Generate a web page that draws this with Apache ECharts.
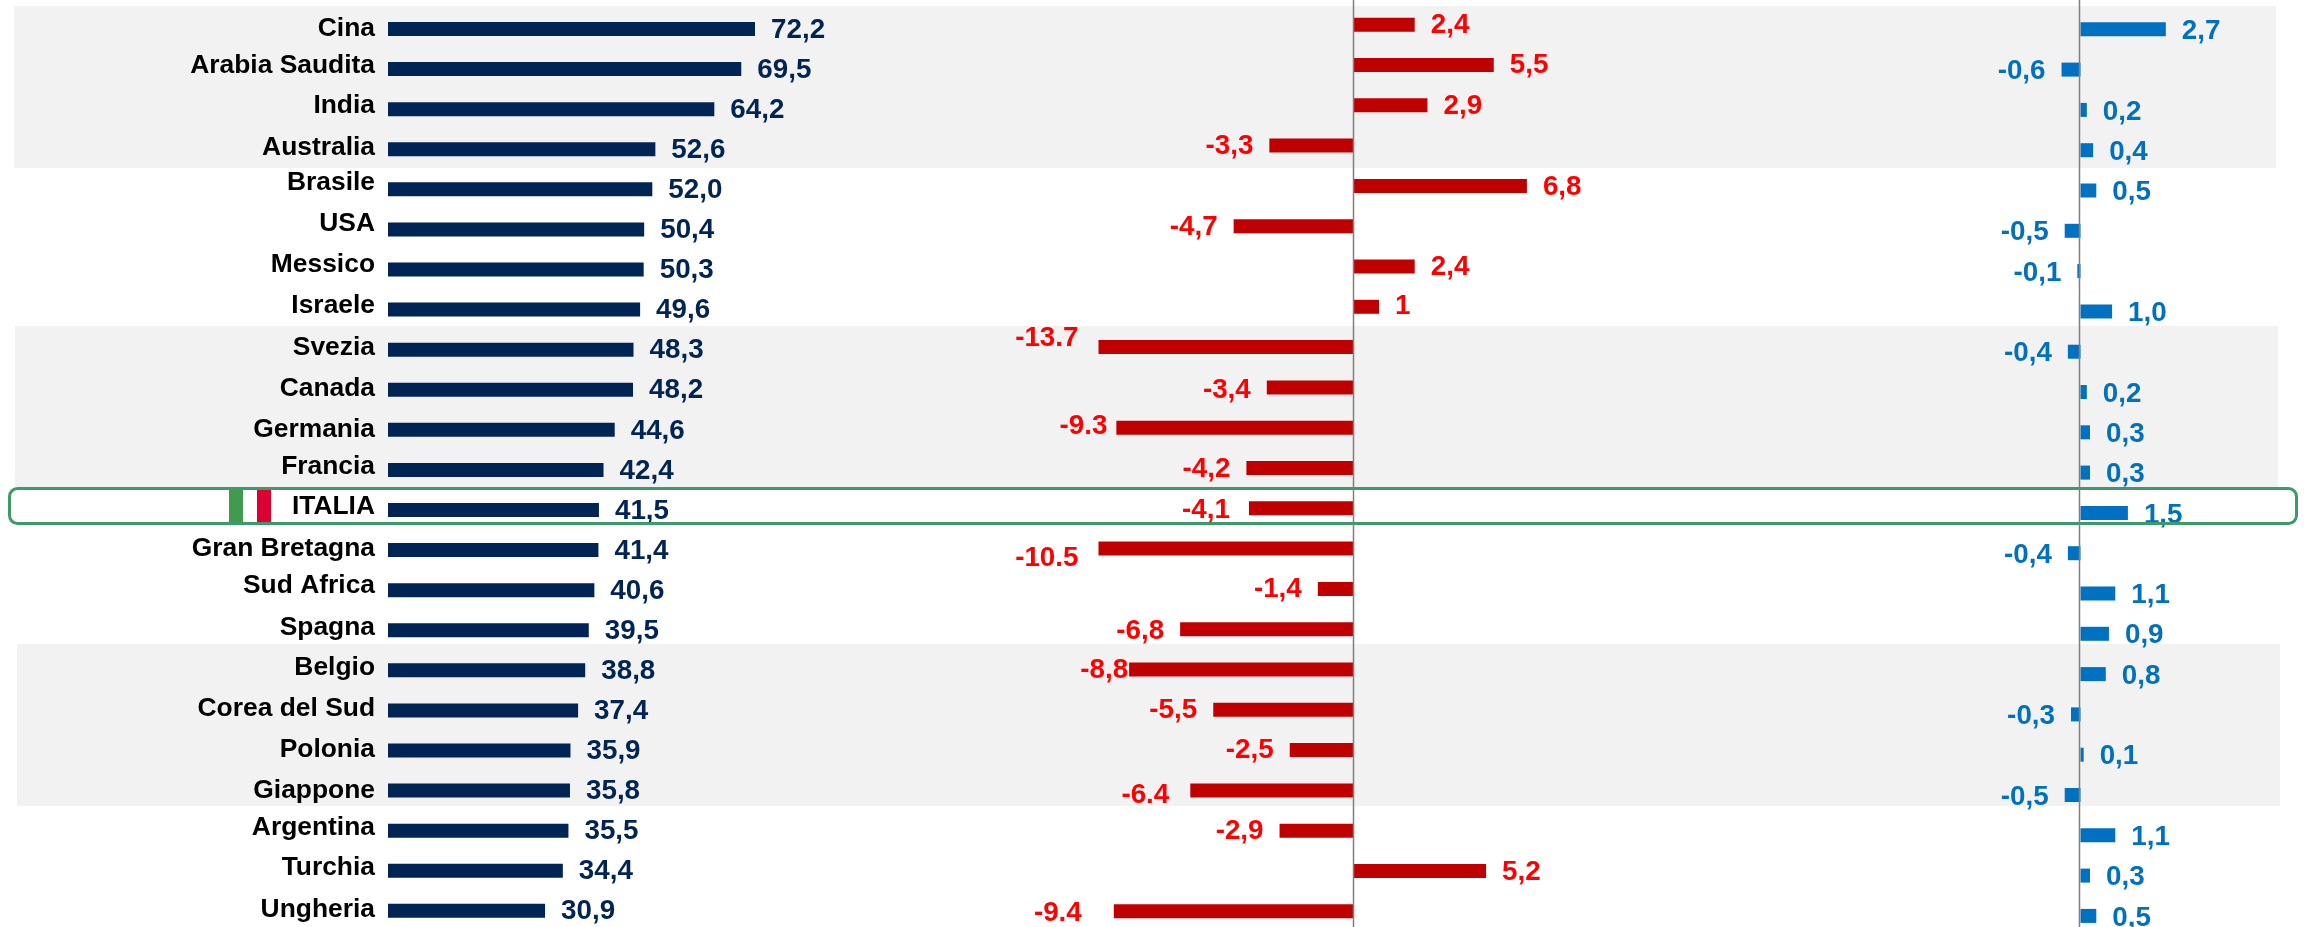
<!DOCTYPE html>
<html>
<head>
<meta charset="utf-8">
<title>Confronto paesi</title>
<script src="https://cdn.jsdelivr.net/npm/echarts@6/dist/echarts.min.js"></script>
<style>
  html, body { margin: 0; padding: 0; background: #fff; }
  #chart { width: 2308px; height: 927px; }
</style>
</head>
<body>
<div id="chart"></div>
<script>
const countries = ['Cina', 'Arabia Saudita', 'India', 'Australia', 'Brasile', 'USA', 'Messico', 'Israele',
  'Svezia', 'Canada', 'Germania', 'Francia', 'ITALIA', 'Gran Bretagna', 'Sud Africa', 'Spagna',
  'Belgio', 'Corea del Sud', 'Polonia', 'Giappone', 'Argentina', 'Turchia', 'Ungheria'];

const levels = [72.2, 69.5, 64.2, 52.6, 52.0, 50.4, 50.3, 49.6, 48.3, 48.2, 44.6, 42.4, 41.5, 41.4, 40.6, 39.5,
  38.8, 37.4, 35.9, 35.8, 35.5, 34.4, 30.9];

const changes = [2.4, 5.5, 2.9, -3.3, 6.8, -4.7, 2.4, 1, -13.7, -3.4, -9.3, -4.2, -4.1, -10.5, -1.4, -6.8,
  -8.8, -5.5, -2.5, -6.4, -2.9, 5.2, -9.4];

// the source mixes comma and point in this column, so the texts are kept as printed
const changeLabels = ['2,4', '5,5', '2,9', '-3,3', '6,8', '-4,7', '2,4', '1', '-13.7', '-3,4', '-9.3', '-4,2',
  '-4,1', '-10.5', '-1,4', '-6,8', '-8,8', '-5,5', '-2,5', '-6.4', '-2,9', '5,2', '-9.4'];

const deltas = [2.7, -0.6, 0.2, 0.4, 0.5, -0.5, -0.1, 1.0, -0.4, 0.2, 0.3, 0.3, 1.5, -0.4, 1.1, 0.9,
  0.8, -0.3, 0.1, -0.5, 1.1, 0.3, 0.5];

// hand placed labels in the original slide: px shifts from the default spot
const countryUp = [0.7, 3.3, 3, 1.3, 6.3, 5.7, 4.7, 3.7, 2.3, 1, 0, 3.7, 3, 1, 4.3, 3,
  2.3, 1.3, 0.7, 0, 3.3, 3, 1];
const changeDy = [1, 0, 1, 1, 1, 1, 1, 0, -9, 2.7, -1.7, 1, 2.3, 10, 0, 1.7, 1.3, 0.7, 0.7, 5, 1, 1, 2];
const changeDx = [0, 0, 0, 0, 0, 0, 0, 0, -4, 0, 7, 0, -3, -4, 0, 0, 15, 0, 0, -5, 0, 0, -16];

const FONT = '"Liberation Sans", Arial, sans-serif';
const NAVY = '#002555';
const RED_BAR = '#C00000';
const RED_TEXT = '#FF0000';
const BLUE = '#0070C0';
const GREEN = '#3D9A6A';
const GREY_BAND = '#F2F2F2';
const RED_ZERO = 1353.5;
const BLUE_ZERO = 2080.5;

function comma(v) {
  return v.toFixed(1).replace('.', ',');
}

function barItems(values, texts, color, dx, dy) {
  return values.map(function (v, i) {
    return {
      value: v,
      label: {
        show: true,
        position: v < 0 ? 'left' : 'right',
        distance: 16,
        offset: [dx ? dx[i] : 0, Array.isArray(dy) ? dy[i] : dy],
        formatter: texts[i],
        color: color,
        fontFamily: FONT,
        fontWeight: 'bold',
        fontSize: 27.8
      }
    };
  });
}

// one rich style per row, bottom padding lifts that row's name
function countryStyles() {
  const styles = {};
  countryUp.forEach(function (up, i) {
    styles['r' + i] = {
      color: '#000',
      fontFamily: FONT,
      fontWeight: 'bold',
      fontSize: 26.4,
      padding: [0, 0, 2 * up, 0]
    };
  });
  return styles;
}

function yAxisFor(index, showLabels) {
  return {
    type: 'category',
    gridIndex: index,
    inverse: true,
    data: countries,
    axisLine: { show: false },
    axisTick: { show: false },
    axisLabel: {
      show: showLabels,
      margin: 13,
      interval: 0,
      formatter: function (name, i) {
        return '{r' + i + '|' + name + '}';
      },
      rich: countryStyles()
    }
  };
}

function band(x, y, w, h) {
  return { type: 'rect', silent: true, z: 0, shape: { x: x, y: y, width: w, height: h }, style: { fill: GREY_BAND } };
}

function zeroLine(x) {
  return {
    type: 'line', silent: true, z: 11,
    shape: { x1: x, y1: 0, x2: x, y2: 927 },
    style: { stroke: '#7F7F7F', lineWidth: 1.5 }
  };
}

const chart = echarts.init(document.getElementById('chart'));

chart.setOption({
  animation: false,
  backgroundColor: '#fff',
  grid: [
    // the last rows run past the bottom edge of the picture, so no outer bounds
    { left: 388, width: 508.3, top: 9, height: 921.84, outerBoundsMode: 'none' },
    { left: RED_ZERO - 255, width: 433.5, top: 4.55, height: 926.9, outerBoundsMode: 'none' },
    { left: BLUE_ZERO - 31.6, width: 126.4, top: 9.15, height: 926.9, outerBoundsMode: 'none' }
  ],
  xAxis: [
    { type: 'value', gridIndex: 0, min: 0, max: 100, show: false },
    { type: 'value', gridIndex: 1, min: -10, max: 7, show: false },
    { type: 'value', gridIndex: 2, min: -1, max: 3, show: false }
  ],
  yAxis: [yAxisFor(0, true), yAxisFor(1, false), yAxisFor(2, false)],
  series: [
    {
      type: 'bar', xAxisIndex: 0, yAxisIndex: 0, barWidth: 14,
      itemStyle: { color: NAVY },
      data: barItems(levels, levels.map(comma), NAVY, null, 1)
    },
    {
      type: 'bar', xAxisIndex: 1, yAxisIndex: 1, barWidth: 14, clip: true,
      itemStyle: { color: RED_BAR },
      data: barItems(changes, changeLabels, RED_TEXT, changeDx, changeDy)
    },
    {
      type: 'bar', xAxisIndex: 2, yAxisIndex: 2, barWidth: 14,
      itemStyle: { color: BLUE },
      data: barItems(deltas, deltas.map(comma), BLUE, null, 2)
    }
  ],
  graphic: [
    band(14, 6, 2262, 162),
    band(15, 326, 2263, 162),
    band(17, 644, 2263, 162),
    {
      type: 'rect', silent: true, z: 10,
      shape: { x: 9.5, y: 488.5, width: 2287, height: 35, r: 8 },
      style: { fill: null, stroke: GREEN, lineWidth: 3 }
    },
    { type: 'rect', silent: true, z: 10, shape: { x: 229, y: 490, width: 14, height: 32 }, style: { fill: '#429A50' } },
    { type: 'rect', silent: true, z: 10, shape: { x: 257, y: 490, width: 14, height: 32 }, style: { fill: '#DC0032' } },
    zeroLine(1353.5),
    zeroLine(2079.5)
  ]
});
</script>
</body>
</html>
